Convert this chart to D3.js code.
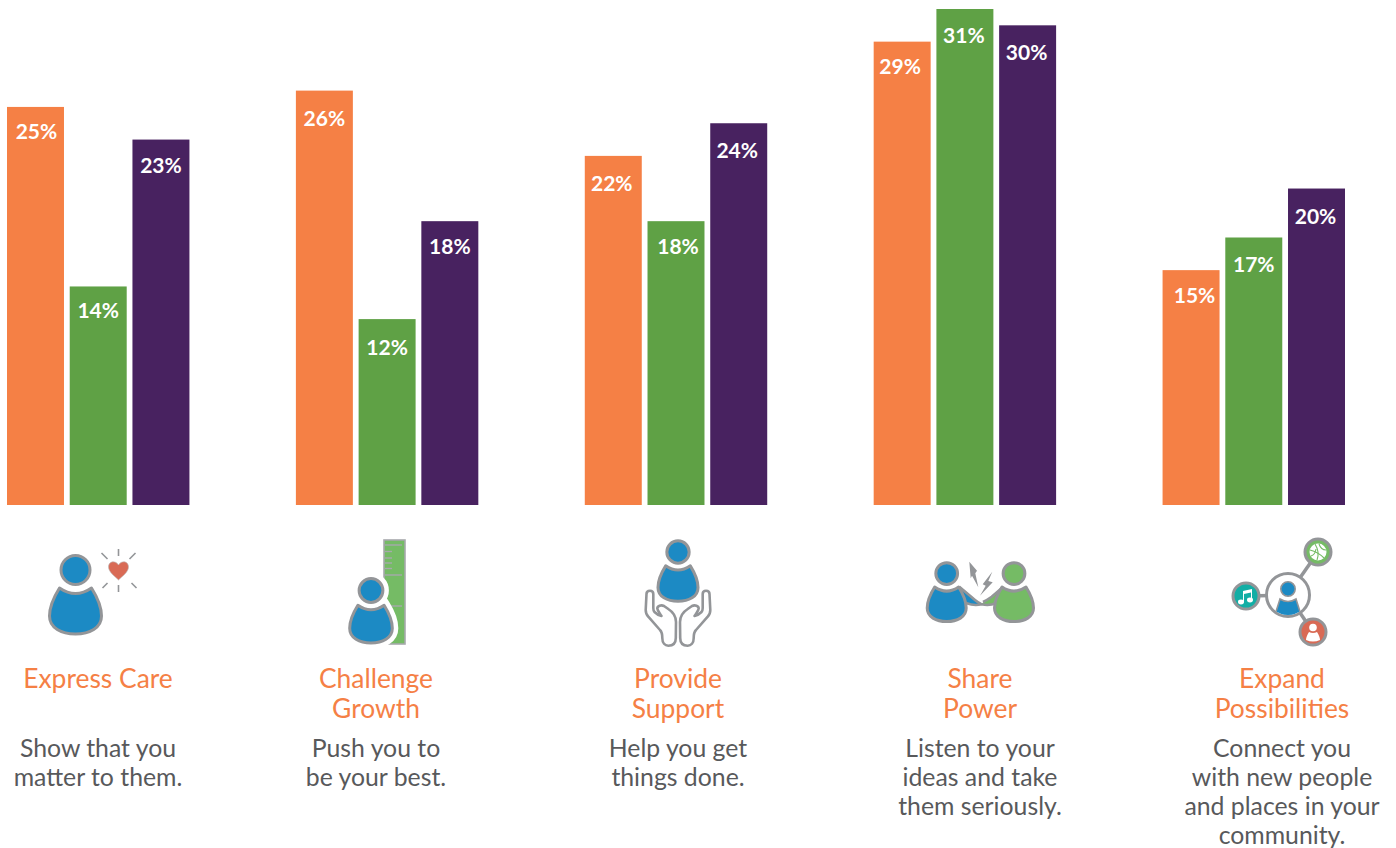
<!DOCTYPE html>
<html>
<head>
<meta charset="utf-8">
<style>
html,body{margin:0;padding:0;background:#fff;}
svg{display:block;}
text{font-family:Lato,"Open Sans",sans-serif;}
</style>
<script src="https://cdn.jsdelivr.net/npm/d3@7/dist/d3.min.js"></script>
</head>
<body>
<svg id="chart" width="1396" height="848"></svg>
<script>
// Developmental relationship elements, share of responses per audience group
const categories = ["Express Care","Challenge Growth","Provide Support","Share Power","Expand Possibilities"];
const seriesKeys = ["a","b","c"];
const seriesA = [25,26,22,29,15];
const seriesB = [14,12,18,31,17];
const seriesC = [23,18,24,30,20];
const seriesColors = ["#F58045","#5FA145","#482260"];
const titleLines = [["Express Care"],["Challenge","Growth"],["Provide","Support"],["Share","Power"],["Expand","Possibilities"]];
const descLines = [
  ["Show that you","matter to them."],
  ["Push you to","be your best."],
  ["Help you get","things done."],
  ["Listen to your","ideas and take","them seriously."],
  ["Connect you","with new people","and places in your","community."]
];
const captionCenters = [98,376,678,980,1282];

const svg = d3.select("#chart");
const x0 = d3.scaleBand().domain(categories).range([7,1345]).paddingInner(0.3685).paddingOuter(0);
const x1 = d3.scaleBand().domain(seriesKeys).range([0,x0.bandwidth()]).paddingInner(0.0916).paddingOuter(0);
const y = d3.scaleLinear().domain([0.61,31]).range([505,9]);

// Hand placement of the value labels inside their bars: [dx, dy] per bar
const labelShift = [
  [[1,0],[0,0],[0,1]],
  [[0,3],[0,4],[0,1]],
  [[-1.5,3],[2,1],[-1.5,3]],
  [[-2,0],[-1,2],[-1,3]],
  [[3.5,1],[0,3],[-1,3]]
];

const rows = categories.map((c,i)=>({c,g:i,values:[seriesA[i],seriesB[i],seriesC[i]]}));
const groups = svg.append("g").selectAll("g").data(rows).join("g")
  .attr("transform",d=>`translate(${x0(d.c)},0)`);
const cells = groups.selectAll("g").data(d=>d.values.map((v,i)=>({v,key:seriesKeys[i],i,g:d.g}))).join("g");
cells.append("rect")
  .attr("x",d=>x1(d.key)).attr("width",x1.bandwidth())
  .attr("y",d=>y(d.v)).attr("height",d=>y.range()[0]-y(d.v))
  .attr("fill",d=>seriesColors[d.i]);
cells.append("text")
  .attr("x",d=>x1(d.key)+x1.bandwidth()/2+labelShift[d.g][d.i][0])
  .attr("y",d=>y(d.v)+32+labelShift[d.g][d.i][1])
  .attr("text-anchor","middle").attr("fill","#fff")
  .attr("font-size",21).attr("font-weight",700)
  .text(d=>d.v+"%");

// Captions below each group
const titleG = svg.append("g");
titleLines.forEach((lines,i)=>lines.forEach((t,j)=>{
  titleG.append("text").attr("x",captionCenters[i]).attr("y",687.5+j*30)
    .attr("text-anchor","middle").attr("font-size",26.4).attr("fill","#F58045").text(t);
}));
const descG = svg.append("g");
descLines.forEach((lines,i)=>lines.forEach((t,j)=>{
  descG.append("text").attr("x",captionCenters[i]).attr("y",757+j*29)
    .attr("text-anchor","middle").attr("font-size",24.8).attr("fill","#58595B").text(t);
}));

// Icon drawing
const GRAY="#939598", BLUE="#1C8AC4", GREEN="#75BB65", RED="#D96A55", TEAL="#12AEA5";
const BODY="M-16,18 Q0,29 16,18 C21,26 26,36 26,46 C26,58 14,64 0,64 C-14,64 -26,58 -26,46 C-26,36 -21,26 -16,18Z";
function person(parent,cx,cy,s,fill,sw=3,halo=false){
  const g=parent.append("g").attr("transform",`translate(${cx},${cy}) scale(${s})`);
  if(halo){
    g.append("circle").attr("r",14.5).attr("fill","#fff").attr("stroke","#fff").attr("stroke-width",(sw+9)/s);
    g.append("path").attr("d",BODY).attr("fill","#fff").attr("stroke","#fff").attr("stroke-width",(sw+9)/s);
  }
  g.append("circle").attr("r",14.5).attr("fill",fill).attr("stroke",GRAY).attr("stroke-width",sw/s);
  g.append("path").attr("d",BODY).attr("fill",fill).attr("stroke",GRAY).attr("stroke-width",sw/s).attr("stroke-linejoin","round");
  return g;
}
const icons=svg.append("g");

// Express Care
person(icons,75.5,570,1,BLUE);
const heart=icons.append("g").attr("transform","translate(118.5,570)");
heart.append("path").attr("d","M0,10 C-4,6 -10,2 -10,-3 C-10,-9 -3,-10 0,-5 C3,-10 10,-9 10,-3 C10,2 4,6 0,10Z")
  .attr("fill",RED).attr("stroke","#bbb").attr("stroke-width",0.6);
[[0,-21,0,-14],[0,15,0,22],[-17,-17,-11,-11],[17,-17,11,-11],[-16,18,-11,13],[18,18,13,13]].forEach(l=>{
  heart.append("line").attr("x1",l[0]).attr("y1",l[1]).attr("x2",l[2]).attr("y2",l[3])
    .attr("stroke",GRAY).attr("stroke-width",1.6);
});

// Challenge Growth
const ruler=icons.append("g");
ruler.append("rect").attr("x",384).attr("y",540).attr("width",21).attr("height",104).attr("fill",GREEN).attr("stroke","#A7A9AC").attr("stroke-width",1.6);
[[545,17],[551.5,7],[558,7],[563,7],[568.5,7],[575,17],[606,17]].forEach(t=>{
  ruler.append("line").attr("x1",385).attr("x2",385+t[1]).attr("y1",t[0]).attr("y2",t[0])
    .attr("stroke","#A7A9AC").attr("stroke-width",1.4);
});
person(icons,371,590.5,0.82,BLUE,3,true);

// Provide Support
person(icons,678,552,0.77,BLUE);
const HAND="M-28,590.7 C-30,590.7 -31.5,592 -31.5,594 L-32.3,610 C-32.3,613 -31.5,615 -29.7,616.7 L-18,630 C-16,632 -15.7,634 -15.7,638 C-15.7,643 -13,645.7 -9.7,645.7 C-5,645.7 -2.2,643 -2.2,638 L-2,622 C-2,617 -5,612 -9.7,609 L-14,606 C-17,604.5 -20.7,606 -20.7,608.5 C-20.7,610 -19,612 -16.5,616 C-19,615.5 -22,613.5 -23.5,612 C-24.5,611 -24.7,610 -24.7,608 L-24.7,594 C-24.7,592 -26,590.7 -28,590.7Z";
[1,-1].forEach(m=>{
  icons.append("path").attr("d",HAND).attr("transform",`translate(678,0) scale(${m},1)`)
    .attr("fill","#fff").attr("stroke",GRAY).attr("stroke-width",2.6).attr("stroke-linejoin","round");
});

// Share Power
icons.append("path").attr("d","M959,587 L975,600 L981,604 L975,605.5 L966,604Z").attr("fill",BLUE);
icons.append("path").attr("d","M1003,587 L991.7,596.7 L981,604 L988,605 L996,603Z").attr("fill",GREEN);
person(icons,946.7,573.5,0.75,BLUE);
person(icons,1014,573.5,0.75,GREEN);
icons.append("path").attr("d","M959.3,586.7 L975,600 Q978,602.5 981,604").attr("fill","none").attr("stroke",GRAY).attr("stroke-width",2.6);
icons.append("path").attr("d","M1003.3,586.7 L991.7,596.7 Q987,600 983,602").attr("fill","none").attr("stroke",GRAY).attr("stroke-width",2.6);
icons.append("path").attr("d","M966.7,603.3 Q974,606 981.7,604.3 Q989,606 996,603.3").attr("fill","none").attr("stroke",GRAY).attr("stroke-width",2.6);
icons.append("path").attr("d","M969.3,561.7 L977,570.7 L975.3,573.3 L978.3,587.3 L972,575.7 L970.7,578.3Z").attr("fill",GRAY);
icons.append("path").attr("d","M992.3,571.7 L982.7,584.3 L985.7,585.7 L980,595.7 L992.7,582.3 L988.3,581Z").attr("fill",GRAY);

// Expand Possibilities
const net=icons.append("g");
[[1318,552],[1246,596],[1313,632]].forEach(p=>{
  net.append("line").attr("x1",1288).attr("y1",595).attr("x2",p[0]).attr("y2",p[1]).attr("stroke",GRAY).attr("stroke-width",3.5);
});
net.append("circle").attr("cx",1288).attr("cy",595).attr("r",21.5).attr("fill","#fff").attr("stroke",GRAY).attr("stroke-width",3);
const clip=svg.append("defs").append("clipPath").attr("id","hub");
clip.append("circle").attr("cx",1288).attr("cy",595).attr("r",20);
const hub=net.append("g").attr("clip-path","url(#hub)");
hub.append("circle").attr("cx",1288).attr("cy",589).attr("r",7.2).attr("fill",BLUE).attr("stroke",GRAY).attr("stroke-width",1.6);
hub.append("path").attr("d","M1280,599 Q1288,604 1296,599 L1302,618 L1274,618Z").attr("fill",BLUE).attr("stroke",GRAY).attr("stroke-width",1.6);
[[1318,552,GREEN],[1246,596,TEAL],[1313,632,RED]].forEach(p=>{
  net.append("circle").attr("cx",p[0]).attr("cy",p[1]).attr("r",13).attr("fill",p[2]).attr("stroke",GRAY).attr("stroke-width",3);
});
// Basketball
const ball=net.append("g").attr("transform","translate(1318,552)");
ball.append("circle").attr("r",8.5).attr("fill","#fff");
["M-8,-2 Q0,0 6,6","M-3,-8 Q2,0 -1,8","M1,-8 Q3,-2 8,-2","M-7,4 Q-3,3 -2,-3"].forEach(d=>{
  ball.append("path").attr("d",d).attr("fill","none").attr("stroke",GREEN).attr("stroke-width",1.1);
});
// Music notes
const note=net.append("g").attr("transform","translate(1246,596)").attr("fill","#fff");
note.append("ellipse").attr("cx",-5).attr("cy",6).attr("rx",3).attr("ry",2.4);
note.append("ellipse").attr("cx",4).attr("cy",4).attr("rx",3).attr("ry",2.4);
note.append("path").attr("d","M-3,6 L-3,-5 L6,-7 L6,4 L5,4 L5,-3.5 L-2,-2 L-2,6Z");
// Small figure
const mini=net.append("g").attr("transform","translate(1313,632)").attr("fill","#fff");
mini.append("circle").attr("cy",-4.5).attr("r",3.8);
mini.append("path").attr("d","M-4,0 Q0,2 4,0 C6,3 7,6 7,8 Q0,11 -7,8 C-7,6 -6,3 -4,0Z");
</script>
</body>
</html>
